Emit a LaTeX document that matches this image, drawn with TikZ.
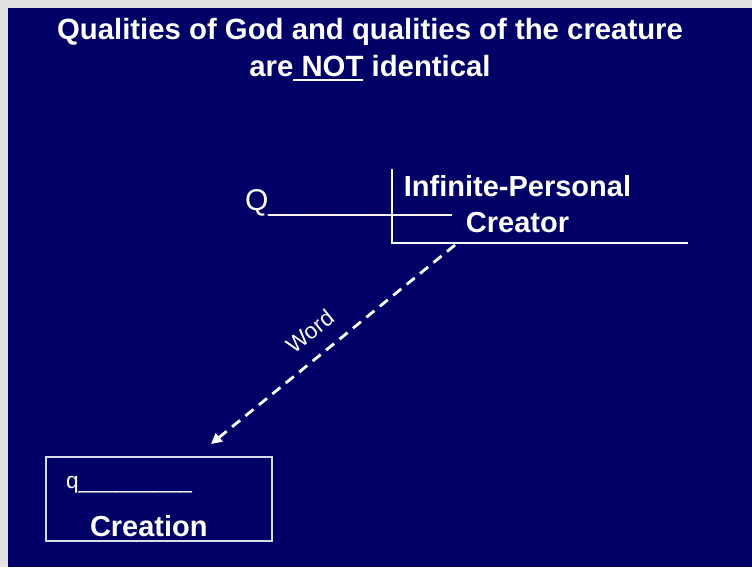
\documentclass[tikz,border=0pt]{standalone}
\usepackage{fontspec}
\setmainfont{Liberation Sans}
\usetikzlibrary{arrows.meta}
\definecolor{navy}{RGB}{0,0,102}
\definecolor{paper}{RGB}{226,226,226}
\newcommand\myul[1]{\setbox0\hbox{#1}\rlap{\rule[-3.8pt]{\wd0}{1.5pt}}\box0\relax}
\begin{document}
\begin{tikzpicture}[x=0.75pt,y=-0.75pt,
  every node/.style={text=white, inner sep=0pt, outer sep=0pt},
  titlefont/.style={font=\fontsize{22}{27}\selectfont\bfseries},
  bigbold/.style={font=\fontsize{21.75}{27}\selectfont\bfseries},
  bigplain/.style={font=\fontsize{22.5}{27}\selectfont},
  smallplain/.style={font=\fontsize{17}{20}\selectfont},
  wordfont/.style={font=\fontsize{17}{20}\selectfont},
  frameline/.style={draw=white, line width=1.5pt},
  boxline/.style={draw=white!85!navy, line width=0.9pt},
  wordarrow/.style={draw=white, line width=2.1pt, dash pattern=on 7.8pt off 5.2pt,
    -{Triangle[length=8pt,width=8pt]}}
]
\useasboundingbox (0,0) rectangle (752,567);
\fill[paper] (0,0) rectangle (752,567);
\fill[navy] (8,8) rectangle (752,567);

% title
\node[titlefont, anchor=base] (title1) at (370,40) {Qualities of God and qualities of the creature};
\node[titlefont, anchor=base] (title2) at (370,76) {are\myul{ NOT} identical};

% creator frame
\coordinate (ftop) at (392,169);
\coordinate (fcorner) at (392,243);
\coordinate (fend) at (688,243);
\draw[frameline] (ftop) -- (fcorner) -- (fend);
\node[bigplain, anchor=base west] (Q) at (245,210) {Q\_\_\_\_\_\_\_\_\_\_\_};
\node[bigbold, anchor=base] (creatorA) at (517.5,196) {Infinite-Personal};
\node[bigbold, anchor=base] (creatorB) at (517.5,232) {Creator};

% creation box
\node[boxline, rectangle, minimum width=169.5pt, minimum height=63pt] (box) at (159,499) {};
\node[smallplain, anchor=base west] (q) at (66,488) {q\_\_\_\_\_\_\_\_\_};
\node[bigbold, anchor=base west] (creation) at (90,536) {Creation};

% Word arrow
\coordinate (ws) at (455,245);
\coordinate (we) at (211,444);
\draw[wordarrow] (ws) -- (we);
\node[wordfont, rotate=39.2] (word) at (310,331) {Word};
\end{tikzpicture}
\end{document}
